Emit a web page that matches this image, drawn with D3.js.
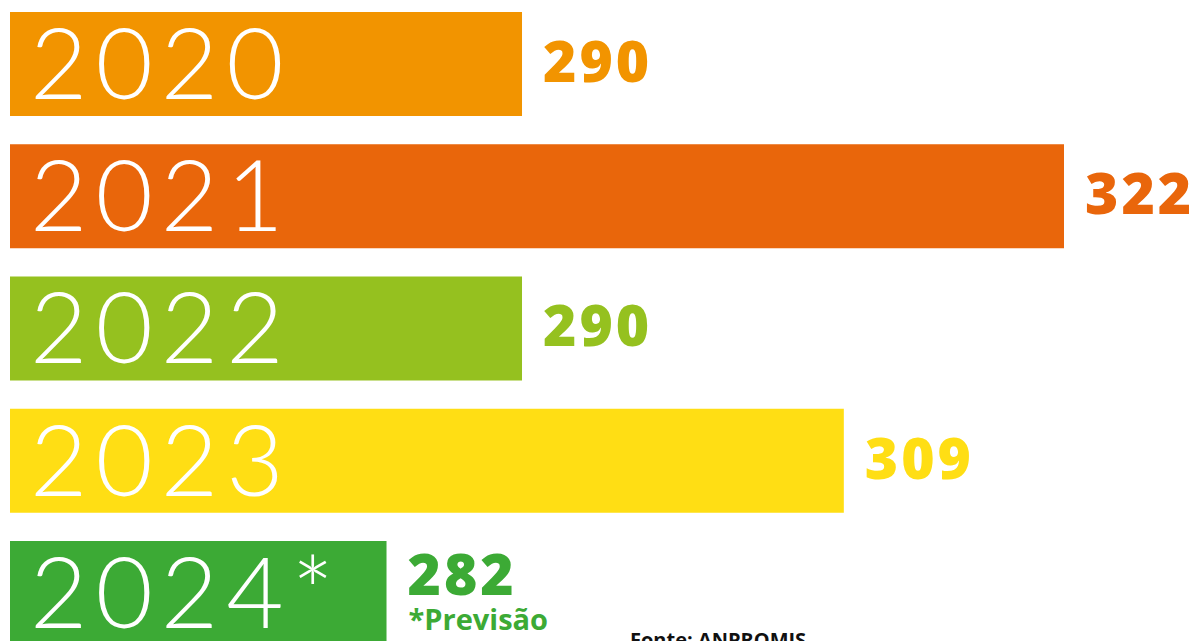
<!DOCTYPE html>
<html>
<head>
<meta charset="utf-8">
<script src="https://cdn.jsdelivr.net/npm/d3@7"></script>
<style>
  html, body { margin: 0; padding: 0; background: #fff; overflow: hidden; }
  svg { display: block; }
</style>
</head>
<body>
<svg id="chart" width="1194" height="641"></svg>
<script>
// data
var years  = ["2020", "2021", "2022", "2023", "2024*"];
var values = [290, 322, 290, 309, 282];
var colors = ["#F29400", "#E9660B", "#95C11F", "#FFDE14", "#3CAA35"];
var note   = "*Previsão";
var source = "Fonte: ANPROMIS";

var svg = d3.select("#chart");

// truncated axis: bars start well above zero
const x = d3.scaleLinear()
    .domain([259.77, 322])
    .range([10, 1064]);

const y = d3.scaleBand()
    .domain(years)
    .range([12, 645])
    .paddingInner(0.2136)
    .paddingOuter(0);

var rows = svg.append("g")
  .selectAll("g")
  .data(years)
  .join("g")
    .attr("transform", d => `translate(0,${y(d)})`);

rows.append("rect")
    .attr("x", x.range()[0])
    .attr("width", (d, i) => x(values[i]) - x.range()[0])
    .attr("height", y.bandwidth())
    .attr("fill", (d, i) => colors[i]);

// big light year labels inside the bars
rows.append("text")
    .attr("x", 30)
    .attr("y", 87)
    .attr("fill", "#fff")
    .style("font-family", "Lato, Roboto, sans-serif")
    .style("font-weight", 300)
    .style("font-size", "99px")
    .style("letter-spacing", "8px")
    .text(d => d);

// value labels
rows.append("text")
    .attr("x", (d, i) => x(values[i]) + 21)
    .attr("y", (d, i) => i == 4 ? 54 : 70)
    .attr("fill", (d, i) => colors[i])
    .style("font-family", "'Open Sans', sans-serif")
    .style("font-weight", 800)
    .style("font-size", "57px")
    .style("letter-spacing", "3px")
    .text((d, i) => values[i]);

svg.append("text")
    .attr("x", x(values[4]) + 22)
    .attr("y", 630)
    .attr("fill", colors[4])
    .style("font-family", "'Open Sans', sans-serif")
    .style("font-weight", 700)
    .style("font-size", "29px")
    .text(note);

svg.append("text")
    .attr("x", 630)
    .attr("y", 647)
    .attr("fill", "#111")
    .style("font-family", "'Open Sans', sans-serif")
    .style("font-weight", 700)
    .style("font-size", "20px")
    .text(source);
</script>
</body>
</html>
